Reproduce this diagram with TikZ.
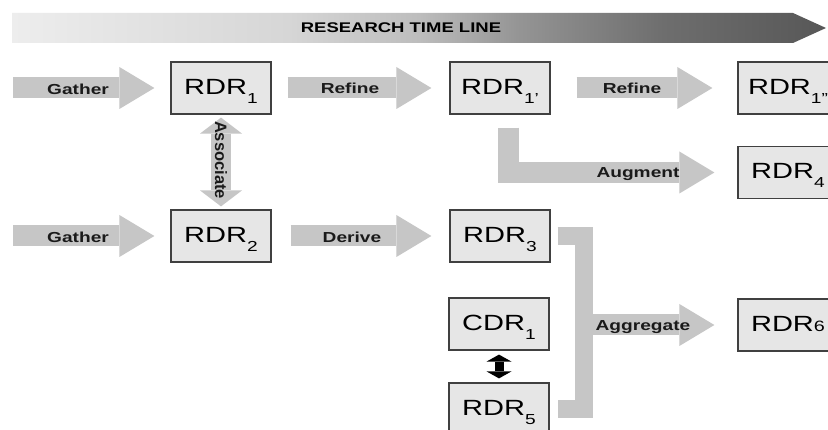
\documentclass[tikz,border=0pt]{standalone}
\usepackage{fontspec}
\setmainfont{Liberation Sans}[FakeStretch=1.32]
\newfontfamily\plainsans{Liberation Sans}
\usetikzlibrary{arrows.meta}
\definecolor{boxfill}{HTML}{E6E6E6}
\definecolor{boxline}{HTML}{404040}
\definecolor{arrowgray}{HTML}{C6C6C6}
\definecolor{lbltext}{HTML}{1A1A1A}
\definecolor{tlA}{HTML}{EDEDED}
\definecolor{tlB}{HTML}{D6D6D6}
\definecolor{tlC}{HTML}{BDBDBD}
\definecolor{tlD}{HTML}{959595}
\definecolor{tlE}{HTML}{6E6E6E}
\definecolor{tlF}{HTML}{575757}
\pgfdeclarehorizontalshading{timeline}{100bp}{color(0bp)=(tlA); color(25bp)=(tlA); color(42bp)=(tlB); color(50bp)=(tlC); color(56bp)=(tlD); color(65bp)=(tlE); color(75bp)=(tlF); color(100bp)=(tlF)}
\newcommand\mysub[1]{\raisebox{-9pt}{\fontsize{14.5}{14.5}\selectfont #1}}
\tikzset{
  databox/.style={draw=boxline, fill=boxfill, line width=1.2pt, minimum width=100pt,
    minimum height=52pt, inner sep=0pt, text height=15.5pt, text depth=2.5pt,
    font=\fontsize{22}{22}\selectfont},
  blk/.style={draw=arrowgray, line width=21pt, line cap=butt,
    -{Triangle[length=35pt,width=42pt,line width=0pt]}},
  dblk/.style={draw=arrowgray, line width=20pt, line cap=butt,
    {Triangle[length=16pt,width=42pt,line width=0pt]}-{Triangle[length=16pt,width=42pt,line width=0pt]}},
  bracketline/.style={draw=arrowgray, line width=18pt, line cap=butt, line join=miter},
  smalldbl/.style={draw=black, line width=9pt, line cap=butt,
    {Triangle[length=7pt,width=25pt,line width=0pt]}-{Triangle[length=7pt,width=25pt,line width=0pt]}},
  lbl/.style={font=\fontsize{14.5}{14.5}\selectfont\bfseries, text=lbltext, inner sep=0pt},
}
\begin{document}
\begin{tikzpicture}[x=1pt,y=-1pt]
\useasboundingbox (0,0) rectangle (828,430);
\clip (0,0) rectangle (828,430);
\fill[white] (0,0) rectangle (828,430);

% time line
\shade[shading=timeline] (12,13) -- (793,13) -- (826,28) -- (793,43) -- (12,43) -- cycle;
\node[font=\fontsize{14}{14}\selectfont\bfseries, inner sep=0pt] (tl) at (401,28) {RESEARCH TIME LINE};

% boxes
\node[databox] (rdr1) at (221,88) {RDR\mysub{1}};
\node[databox] (rdr2) at (221,236) {RDR\mysub{2}};
\node[databox] (rdr1p) at (500,88) {RDR\mysub{1'}};
\node[databox] (rdr3) at (500,236) {RDR\mysub{3}};
\node[databox] (rdr1pp) at (788,88) {RDR\mysub{1''}};
\node[databox] (rdr4) at (788,172.5) {RDR\mysub{4}};
\node[databox] (cdr1) at (499,324) {CDR\mysub{1}};
\node[databox] (rdr5) at (499,409) {RDR\mysub{5}};
\node[databox] (rdr6) at (788,325) {RDR{\fontsize{15}{15}\selectfont 6}};

% free ends
\coordinate (g1) at (13,88);
\coordinate (g2) at (13,236);
\coordinate (bk) at (584,409);
\coordinate (ag) at (575,325);

% gray block arrows
\draw[blk, shorten >=16pt] (g1) -- (rdr1.west);
\draw[blk, shorten >=16pt] (g2) -- (rdr2.west);
\draw[blk, shorten >=18pt] ([xshift=16pt]rdr1.east) -- (rdr1p.west);
\draw[blk, shorten >=18pt] ([xshift=19pt]rdr2.east) -- (rdr3.west);
\draw[blk, shorten >=25pt] ([xshift=26pt]rdr1p.east) -- (rdr1pp.west);
\draw[blk, line join=miter, shorten >=23pt] ([xshift=8pt,yshift=-13pt]rdr1p.south) |- (rdr4.west);
\draw[dblk] ([yshift=-3pt]rdr1.south) -- ([yshift=3pt]rdr2.north);
\draw[bracketline] ([xshift=7pt]rdr3.east) -| (bk) -- ([xshift=8pt]rdr5.east);
\draw[blk, shorten >=23pt] (ag) -- (rdr6.west);
\draw[smalldbl] ([yshift=-4pt]cdr1.south) -- ([yshift=4pt]rdr5.north);

% labels
\node[lbl] (lg1) at (78,89) {Gather};
\node[lbl] (lg2) at (78,237) {Gather};
\node[lbl] (lr1) at (350,88) {Refine};
\node[lbl] (lr2) at (632,88) {Refine};
\node[lbl] (ld) at (352,237) {Derive};
\node[lbl] (lau) at (638,174) {Augment};
\node[lbl] (lag) at (643,327) {Aggregate};
\node[lbl, font=\plainsans\fontsize{16.5}{16.5}\selectfont\bfseries, rotate=-90] (las) at (221,160) {Associate};
\end{tikzpicture}
\end{document}
